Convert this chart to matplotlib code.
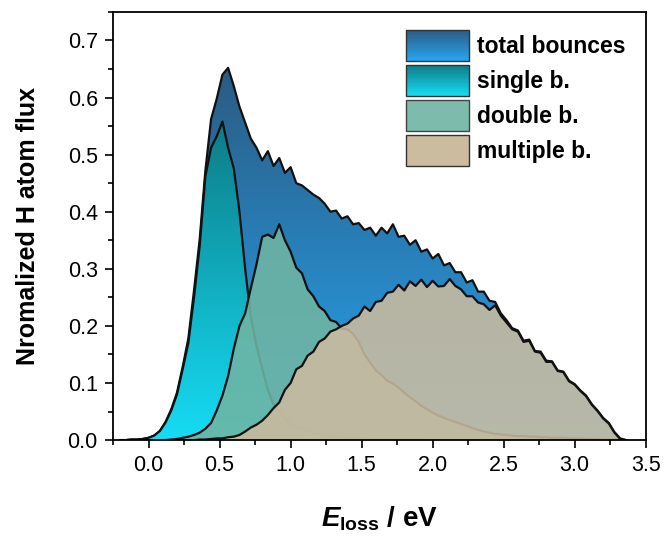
import numpy as np
import matplotlib
matplotlib.use("Agg")
import matplotlib.pyplot as plt
from matplotlib.colors import LinearSegmentedColormap
from matplotlib.patches import Rectangle, Patch
from matplotlib.legend_handler import HandlerBase
from matplotlib.ticker import MultipleLocator, FormatStrFormatter

plt.rcParams['font.family'] = ['Liberation Sans', 'DejaVu Sans']
plt.rcParams['mathtext.fontset'] = 'custom'
plt.rcParams['mathtext.it'] = 'Liberation Sans:italic:bold'
plt.rcParams['mathtext.rm'] = 'Liberation Sans:bold'
plt.rcParams['mathtext.bf'] = 'Liberation Sans:bold'

# ---------------- data ----------------
energy = np.round(np.arange(-0.20, 3.37, 0.04), 2)   # E_loss grid (eV), 90 points

total = [
    0.000, 0.000, 0.001, 0.001, 0.002,
    0.004, 0.008, 0.016, 0.032, 0.054,
    0.083, 0.128, 0.178, 0.262, 0.352,
    0.472, 0.562, 0.598, 0.640, 0.652,
    0.620, 0.584, 0.556, 0.528, 0.512,
    0.490, 0.506, 0.480, 0.494, 0.468,
    0.478, 0.450, 0.446, 0.438, 0.430,
    0.424, 0.414, 0.400, 0.402, 0.388,
    0.392, 0.378, 0.380, 0.368, 0.372,
    0.358, 0.372, 0.362, 0.378, 0.356,
    0.358, 0.342, 0.350, 0.330, 0.334,
    0.318, 0.326, 0.306, 0.310, 0.294,
    0.294, 0.276, 0.280, 0.260, 0.260,
    0.244, 0.242, 0.222, 0.210, 0.196,
    0.192, 0.174, 0.176, 0.156, 0.155,
    0.139, 0.138, 0.122, 0.120, 0.104,
    0.098, 0.087, 0.078, 0.063, 0.052,
    0.039, 0.030, 0.014, 0.003, 0.000,
]

single = [
    0.000, 0.000, 0.001, 0.001, 0.002,
    0.004, 0.008, 0.016, 0.031, 0.052,
    0.080, 0.124, 0.170, 0.250, 0.340,
    0.462, 0.512, 0.532, 0.558, 0.512,
    0.476, 0.400, 0.300, 0.215, 0.165,
    0.125, 0.088, 0.062, 0.050, 0.038,
    0.028, 0.023, 0.019, 0.015, 0.012,
    0.010, 0.008, 0.007, 0.006, 0.005,
    0.004, 0.004, 0.003, 0.003, 0.002,
    0.002, 0.002, 0.001, 0.001, 0.001,
    0.001, 0.001, 0.001, 0.001, 0.000,
    0.000, 0.000, 0.000, 0.000, 0.000,
    0.000, 0.000, 0.000, 0.000, 0.000,
    0.000, 0.000, 0.000, 0.000, 0.000,
    0.000, 0.000, 0.000, 0.000, 0.000,
    0.000, 0.000, 0.000, 0.000, 0.000,
    0.000, 0.000, 0.000, 0.000, 0.000,
    0.000, 0.000, 0.000, 0.000, 0.000,
]

double = [
    0.000, 0.000, 0.000, 0.000, 0.000,
    0.000, 0.000, 0.000, 0.000, 0.001,
    0.002, 0.004, 0.006, 0.009, 0.013,
    0.020, 0.030, 0.052, 0.078, 0.112,
    0.160, 0.200, 0.222, 0.266, 0.308,
    0.356, 0.360, 0.354, 0.378, 0.350,
    0.330, 0.302, 0.292, 0.264, 0.252,
    0.234, 0.226, 0.210, 0.207, 0.195,
    0.194, 0.186, 0.172, 0.150, 0.136,
    0.122, 0.114, 0.104, 0.099, 0.092,
    0.083, 0.075, 0.068, 0.060, 0.054,
    0.048, 0.043, 0.039, 0.035, 0.032,
    0.028, 0.025, 0.021, 0.018, 0.015,
    0.013, 0.011, 0.010, 0.009, 0.008,
    0.007, 0.007, 0.006, 0.006, 0.005,
    0.005, 0.004, 0.004, 0.004, 0.003,
    0.003, 0.003, 0.002, 0.002, 0.002,
    0.001, 0.001, 0.001, 0.000, 0.000,
]

multiple = [
    0.000, 0.000, 0.000, 0.000, 0.000,
    0.000, 0.000, 0.000, 0.000, 0.000,
    0.000, 0.000, 0.000, 0.000, 0.001,
    0.001, 0.002, 0.003, 0.003, 0.005,
    0.006, 0.009, 0.015, 0.022, 0.027,
    0.034, 0.044, 0.056, 0.066, 0.088,
    0.100, 0.124, 0.130, 0.148, 0.155,
    0.172, 0.178, 0.190, 0.194, 0.200,
    0.204, 0.213, 0.218, 0.234, 0.226,
    0.242, 0.244, 0.258, 0.260, 0.272,
    0.262, 0.278, 0.270, 0.281, 0.268,
    0.279, 0.269, 0.270, 0.282, 0.270,
    0.264, 0.252, 0.252, 0.241, 0.238,
    0.228, 0.236, 0.218, 0.206, 0.194,
    0.190, 0.172, 0.174, 0.155, 0.153,
    0.137, 0.137, 0.121, 0.119, 0.103,
    0.097, 0.086, 0.077, 0.062, 0.051,
    0.038, 0.029, 0.013, 0.002, 0.000,
]

labels = ["total bounces", "single b.", "double b.", "multiple b."]
x_ticks = [0.0, 0.5, 1.0, 1.5, 2.0, 2.5, 3.0, 3.5]
y_ticks = [0.0, 0.1, 0.2, 0.3, 0.4, 0.5, 0.6, 0.7]

# ---------------- style ----------------
total_top, total_bot = "#2a5b82", "#27a6f2"
single_top, single_bot = "#0d7c87", "#16dcf4"
double_col = "#6fb5a3"
multiple_col = "#cbbb9f"

fig = plt.figure(figsize=(6.65, 5.40), dpi=100)
ax = fig.add_axes([0.170, 0.185, 0.801, 0.793])

E = np.asarray(energy)


def gradient_area(x, y, ctop, cbot, z):
    y = np.asarray(y)
    poly = ax.fill_between(x, 0, y, facecolor='none', edgecolor='none', zorder=z)
    path = poly.get_paths()[0]
    cmap = LinearSegmentedColormap.from_list('g', [cbot, ctop])
    grad = np.linspace(0, 1, 256).reshape(-1, 1)
    im = ax.imshow(grad, extent=[x.min(), x.max(), 0, y.max()], origin='lower',
                   aspect='auto', cmap=cmap, zorder=z, interpolation='bilinear')
    im.set_clip_path(path, transform=ax.transData)
    ax.plot(x, y, color='#111111', lw=1.6, zorder=z + 0.1)


gradient_area(E, total, total_top, total_bot, 1)
gradient_area(E, single, single_top, single_bot, 2)
ax.fill_between(E, 0, double, facecolor=double_col, edgecolor='none', alpha=0.88, zorder=3)
ax.plot(E, double, color='#111111', lw=1.6, zorder=3.1)
ax.fill_between(E, 0, multiple, facecolor=multiple_col, edgecolor='none', alpha=0.88, zorder=4)
ax.plot(E, multiple, color='#111111', lw=1.6, zorder=4.1)

ax.set_xlim(-0.25, 3.5)
ax.set_ylim(0, 0.75)
ax.set_xticks(x_ticks)
ax.set_yticks(y_ticks)
ax.xaxis.set_minor_locator(MultipleLocator(0.25))
ax.yaxis.set_minor_locator(MultipleLocator(0.05))
ax.xaxis.set_major_formatter(FormatStrFormatter('%.1f'))
ax.yaxis.set_major_formatter(FormatStrFormatter('%.1f'))
ax.tick_params(which='major', direction='out', length=6, width=1.2, labelsize=15.5, pad=5)
ax.tick_params(which='minor', direction='out', length=3.5, width=1.2)
ax.tick_params(top=False, right=False)
for sp in ax.spines.values():
    sp.set_linewidth(1.3)
    sp.set_zorder(10)

ax.set_ylabel("Nromalized H atom flux", fontsize=18, fontweight='bold', labelpad=20)
ax.set_xlabel(r"$\mathit{E}_{\mathrm{loss}}$ / eV", fontsize=20, fontweight='bold', labelpad=20)


class HandlerGradient(HandlerBase):
    def __init__(self, ctop, cbot, n=24):
        super().__init__()
        self.ctop, self.cbot, self.n = ctop, cbot, n

    def create_artists(self, legend, orig_handle, xdescent, ydescent, width, height,
                       fontsize, trans):
        cmap = LinearSegmentedColormap.from_list('g', [self.cbot, self.ctop])
        arts = []
        h = height / self.n
        for i in range(self.n):
            r = Rectangle((-xdescent, -ydescent + i * h), width, h * 1.05,
                          facecolor=cmap((i + 0.5) / self.n), edgecolor='none',
                          transform=trans)
            arts.append(r)
        arts.append(Rectangle((-xdescent, -ydescent), width, height, facecolor='none',
                              edgecolor='#333333', lw=1.0, transform=trans))
        return arts


h_total = Patch(label=labels[0])
h_single = Patch(label=labels[1])
h_double = Patch(facecolor=double_col, edgecolor='#333333', lw=1.0, alpha=0.9, label=labels[2])
h_multi = Patch(facecolor=multiple_col, edgecolor='#333333', lw=1.0, label=labels[3])

leg = ax.legend(handles=[h_total, h_single, h_double, h_multi],
                handler_map={h_total: HandlerGradient(total_top, total_bot),
                             h_single: HandlerGradient(single_top, single_bot)},
                loc='upper left', bbox_to_anchor=(0.55, 0.958), frameon=False,
                borderpad=0, borderaxespad=0, handlelength=2.75, handleheight=1.71,
                labelspacing=0.17, handletextpad=0.35,
                prop={'family': 'Liberation Sans', 'weight': 'bold', 'size': 16.5})
leg.set_zorder(20)

fig.savefig("out.png", dpi=100)
